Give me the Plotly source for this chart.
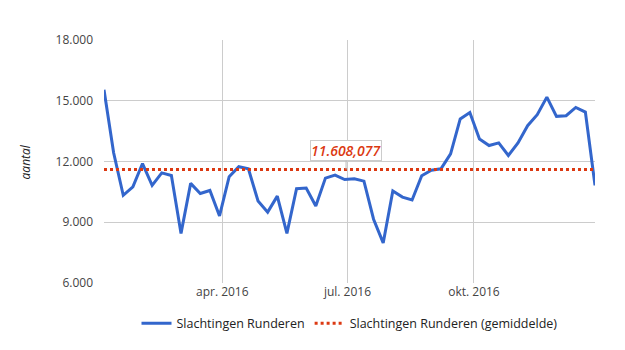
import datetime as dt
import plotly.graph_objects as go

# Weekly cattle slaughter counts, 2016
start_date = dt.date(2016, 1, 6)
values = [
    15540, 12430, 10330, 10750, 11900, 10820, 11440, 11310, 8450, 10920,
    10420, 10570, 9310, 11250, 11740, 11640, 10050, 9500, 10290, 8450,
    10660, 10690, 9800, 11180, 11330, 11110, 11150, 11030, 9150, 7980,
    10540, 10240, 10100, 11300, 11570, 11640, 12380, 14100, 14420, 13110,
    12790, 12920, 12300, 12920, 13770, 14310, 15180, 14230, 14260, 14670,
    14440, 10820,
]
dates = [start_date + dt.timedelta(days=7 * i) for i in range(len(values))]
average = 11608.077

tick_dates = ["2016-04-01", "2016-07-01", "2016-10-01"]
tick_labels = ["apr. 2016", "jul. 2016", "okt. 2016"]
y_ticks = [6000, 9000, 12000, 15000, 18000]
y_labels = ["6.000", "9.000", "12.000", "15.000", "18.000"]

series_name = "Slachtingen Runderen"
avg_name = "Slachtingen Runderen (gemiddelde)"

FONT = "Open Sans"

fig = go.Figure()
fig.add_trace(go.Scatter(
    x=dates, y=values, mode="lines", name=series_name,
    line=dict(color="#3366CC", width=3),
    hoverinfo="x+y",
))
fig.add_trace(go.Scatter(
    x=[dates[0], dates[-1]], y=[average, average], mode="lines", name=avg_name,
    line=dict(color="#DC3912", width=3, dash="dot"),
))

avg_text = f"{average:,.3f}".replace(",", "X").replace(".", ",").replace("X", ".")
fig.add_annotation(
    x="2016-06-30", y=average, xref="x", yref="y",
    text=avg_text, showarrow=True, arrowhead=0, arrowwidth=1,
    arrowcolor="#BBBBBB", ax=0, ay=-19,
    bgcolor="white", bordercolor="#CCCCCC", borderwidth=1, borderpad=0,
    font=dict(family=FONT, size=14, color="#DC3912", style="italic", weight=600),
)
fig.add_annotation(
    x=-0.159, y=0.5, xref="paper", yref="paper",
    text="aantal", showarrow=False, textangle=-90,
    xanchor="center", yanchor="middle",
    font=dict(family=FONT, size=12, color="#222222", style="italic"),
)

fig.update_layout(
    width=625, height=350,
    margin=dict(l=104, r=30, t=40, b=65),
    paper_bgcolor="white", plot_bgcolor="white",
    font=dict(family=FONT, size=12, color="#444444"),
    showlegend=True,
    legend=dict(
        orientation="h", x=0.5, xanchor="center", y=-0.167, yanchor="middle",
        font=dict(family=FONT, size=12.5, color="#222222"),
        itemwidth=30,
    ),
    xaxis=dict(
        type="date", range=[dates[0], dates[-1]],
        tickvals=tick_dates, ticktext=tick_labels,
        showgrid=True, gridcolor="#CCCCCC", gridwidth=1,
        zeroline=False, showline=False, ticks="",
    ),
    yaxis=dict(
        range=[6000, 18000], tickvals=y_ticks, ticktext=y_labels,
        showgrid=True, gridcolor="#CCCCCC", gridwidth=1,
        zeroline=False, showline=False, ticks="", ticklabelstandoff=10,
    ),
)

fig.write_html("out.html")
